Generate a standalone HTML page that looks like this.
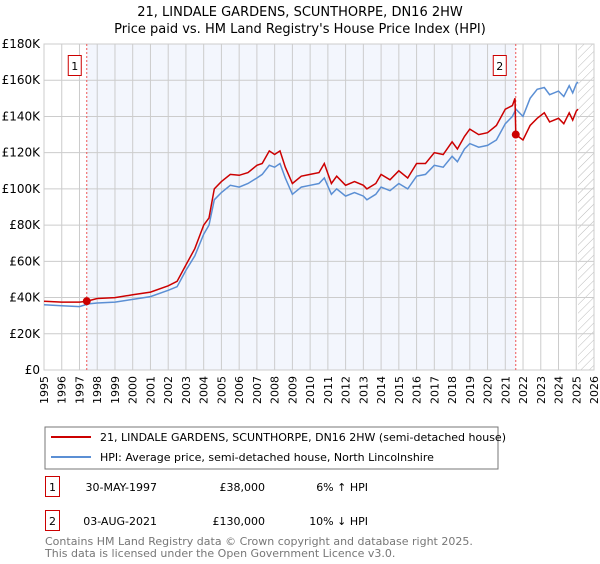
<!DOCTYPE html>
<html><head><meta charset="utf-8"><style>
body{margin:0;background:#fff;font-family:"DejaVu Sans","Liberation Sans",sans-serif;}
</style></head><body>
<svg width="600" height="560" xmlns="http://www.w3.org/2000/svg" font-family="DejaVu Sans, Liberation Sans, sans-serif">
<defs><pattern id="hatch" width="6" height="6" patternUnits="userSpaceOnUse" patternTransform="rotate(45)"><line x1="0" y1="0" x2="0" y2="6" stroke="#bbb" stroke-width="1"/></pattern></defs>
<text x="300" y="16" text-anchor="middle" font-size="13">21, LINDALE GARDENS, SCUNTHORPE, DN16 2HW</text>
<text x="300" y="33" text-anchor="middle" font-size="13">Price paid vs. HM Land Registry's House Price Index (HPI)</text>
<g id="plot"></g>
<g>
<rect x="45" y="427" width="453" height="42" fill="#fff" stroke="#777"/>
<line x1="51" y1="437" x2="91" y2="437" stroke="#cc0000" stroke-width="2"/>
<text x="100" y="441" font-size="11">21, LINDALE GARDENS, SCUNTHORPE, DN16 2HW (semi-detached house)</text>
<line x1="51" y1="457" x2="91" y2="457" stroke="#5b8fd4" stroke-width="2"/>
<text x="100" y="461" font-size="11">HPI: Average price, semi-detached house, North Lincolnshire</text>
</g>
<g font-size="11">
<rect x="45.5" y="476.5" width="14" height="20" fill="#fff" stroke="#cc0000"/>
<text x="52.5" y="491" text-anchor="middle">1</text>
<text x="157" y="491" text-anchor="end">30-MAY-1997</text>
<text x="265" y="491" text-anchor="end">£38,000</text>
<text x="368" y="491" text-anchor="end">6% ↑ HPI</text>
<rect x="45.5" y="510.5" width="14" height="20" fill="#fff" stroke="#cc0000"/>
<text x="52.5" y="525" text-anchor="middle">2</text>
<text x="157" y="525" text-anchor="end">03-AUG-2021</text>
<text x="265" y="525" text-anchor="end">£130,000</text>
<text x="368" y="525" text-anchor="end">10% ↓ HPI</text>
</g>
<text x="45" y="545" font-size="11" fill="#777">Contains HM Land Registry data © Crown copyright and database right 2025.</text>
<text x="45" y="557" font-size="11" fill="#777">This data is licensed under the Open Government Licence v3.0.</text>
</svg>
<script>
const hpiYears=[1995,1996,1997,1997.5,1998,1999,2000,2001,2002,2002.5,2003,2003.5,2004,2004.3,2004.6,2005,2005.5,2006,2006.5,2007,2007.3,2007.7,2008,2008.3,2008.6,2009,2009.5,2010,2010.5,2010.8,2011.2,2011.5,2012,2012.5,2013,2013.2,2013.7,2014,2014.5,2015,2015.5,2016,2016.5,2017,2017.5,2018,2018.3,2018.7,2019,2019.5,2020,2020.5,2021,2021.4,2021.6,2022,2022.4,2022.8,2023.2,2023.5,2024,2024.3,2024.6,2024.8,2025,2025.1];
const hpiValues=[36,35.5,35,36.5,37,37.5,39,40.5,44,46,55,63,75,80,94,98,102,101,103,106,108,113,112,114,106,97,101,102,103,106,97,100,96,98,96,94,97,101,99,103,100,107,108,113,112,118,115,122,125,123,124,127,136,140,144,140,150,155,156,152,154,151,157,153,158,159];
const priceYears=[1995,1996,1997,1997.41,1998,1999,2000,2001,2002,2002.5,2003,2003.5,2004,2004.3,2004.6,2005,2005.5,2006,2006.5,2007,2007.3,2007.7,2008,2008.3,2008.6,2009,2009.5,2010,2010.5,2010.8,2011.2,2011.5,2012,2012.5,2013,2013.2,2013.7,2014,2014.5,2015,2015.5,2016,2016.5,2017,2017.5,2018,2018.3,2018.7,2019,2019.5,2020,2020.5,2021,2021.4,2021.55,2021.59,2022,2022.4,2022.8,2023.2,2023.5,2024,2024.3,2024.6,2024.8,2025,2025.1];
const priceValues=[38,37.5,37.5,38,39.5,40,41.5,43,46.5,49,58,67,80,84,100,104,108,107.5,109,113,114,121,119,121,112,103,107,108,109,114,103,107,102,104,102,100,103,108,105,110,106,114,114,120,119,126,122,129,133,130,131,135,144,146,150,130,127,135,139,142,137,139,136,142,138,143,144];
const saleYears=[1997.41,2021.59];
const saleValues=[38,130];
const saleLabels=["1","2"];
const yTicks=[0,20,40,60,80,100,120,140,160,180];
const yTickLabels=["£0","£20K","£40K","£60K","£80K","£100K","£120K","£140K","£160K","£180K"];
const xTickYears=[];for(let y=1995;y<=2026;y++)xTickYears.push(y);
const forecastStart=2025.1;

const L=44,R=594,T=44,B=370;
const x=y=>L+(y-1995)/31*(R-L);
const yv=v=>B-v/180*(B-T);
const NS="http://www.w3.org/2000/svg";
const g=document.getElementById('plot');
function mk(tag,attrs,parent){const e=document.createElementNS(NS,tag);for(const k in attrs)e.setAttribute(k,attrs[k]);(parent||g).appendChild(e);return e;}

let e=mk('rect',{x:x(saleYears[0]),y:T,width:x(saleYears[1])-x(saleYears[0]),height:B-T,fill:'#f3f6fd'});


e=mk('rect',{x:x(forecastStart),y:T,width:R-x(forecastStart),height:B-T,fill:'url(#hatch)'});



xTickYears.forEach(yr=>{
  const gl=mk('line',{x1:x(yr),x2:x(yr),y1:T,y2:B,stroke:'#ccc','stroke-width':1});
  
  
  const t=mk('text',{x:0,y:0,'font-size':11,'text-anchor':'end',transform:`translate(${x(yr)+4},${B+6}) rotate(-90)`});
  t.textContent=yr;
  
  
});
yTicks.forEach((v,i)=>{
  const gl=mk('line',{x1:L,x2:R,y1:yv(v),y2:yv(v),stroke:'#ccc','stroke-width':1});
  
  
  const t=mk('text',{x:L-4,y:yv(v)+4,'font-size':12,'text-anchor':'end'});
  t.textContent=yTickLabels[i];
  
  
});
e=mk('rect',{x:L,y:T,width:R-L,height:B-T,fill:'none',stroke:'#ccc'});



saleYears.forEach((yr,i)=>{
  const l=mk('line',{x1:x(yr),x2:x(yr),y1:T,y2:B,stroke:'#ee5555','stroke-width':1,'stroke-dasharray':'2,2'});
  
  
  const bx=x(yr)-19+(i?-4:0);
  const r=mk('rect',{x:bx+0.5,y:55.5,width:13,height:20,fill:'#fff',stroke:'#cc0000'});
  
  
  const t=mk('text',{x:bx+7,y:70,'font-size':11,'text-anchor':'middle'});
  t.textContent=saleLabels[i];
  
  
});

const pts=(xs,vs)=>xs.map((a,i)=>x(a).toFixed(1)+','+yv(vs[i]).toFixed(1)).join(' ');
e=mk('polyline',{points:pts(hpiYears,hpiValues),fill:'none',stroke:'#5b8fd4','stroke-width':1.5});


e=mk('polyline',{points:pts(priceYears,priceValues),fill:'none',stroke:'#cc0000','stroke-width':1.5});


saleYears.forEach((yr,i)=>{
  const c=mk('circle',{cx:x(yr),cy:yv(saleValues[i]),r:4,fill:'#cc0000'});
  
  
});
</script>
</body></html>
